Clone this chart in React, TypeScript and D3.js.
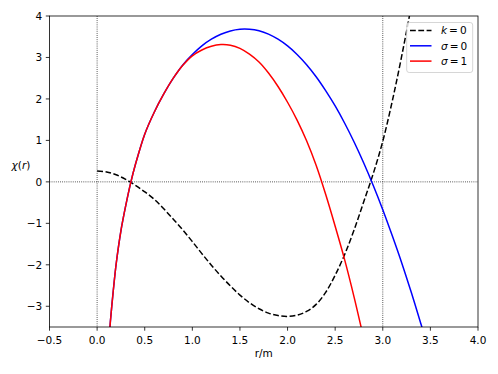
import React from "react";
import * as d3 from "d3";

// ---- data ----
const kZeroR = [0, 0.1, 0.2, 0.3, 0.4, 0.5, 0.6, 0.7, 0.8, 0.9, 1.0, 1.1, 1.2, 1.3, 1.4, 1.5, 1.6, 1.7, 1.8, 1.9, 2.0, 2.1, 2.2, 2.3, 2.4, 2.5, 2.6, 2.7, 2.8, 2.9, 3.0, 3.1, 3.2, 3.3, 3.35];
const kZeroY = [0.26, 0.24, 0.17, 0.06, -0.08, -0.24, -0.42, -0.65, -0.9, -1.16, -1.44, -1.73, -2.01, -2.27, -2.51, -2.73, -2.915, -3.06, -3.165, -3.225, -3.245, -3.215, -3.125, -2.955, -2.665, -2.25, -1.75, -1.15, -0.48, 0.2, 0.98, 1.95, 3.05, 4.25, 4.9];

const sigma0R = [0.12, 0.14, 0.17, 0.2, 0.25, 0.3, 0.355, 0.4, 0.5, 0.6, 0.7, 0.8, 0.9, 1.0, 1.1, 1.2, 1.3, 1.4, 1.5, 1.6, 1.7, 1.8, 1.9, 2.0, 2.1, 2.2, 2.3, 2.4, 2.5, 2.6, 2.7, 2.8, 2.9, 3.0, 3.1, 3.2, 3.3, 3.4, 3.45];
const sigma0Y = [-3.95, -3.35, -2.62, -1.98, -1.18, -0.58, 0, 0.4, 1.15, 1.68, 2.12, 2.5, 2.82, 3.07, 3.28, 3.44, 3.56, 3.64, 3.68, 3.68, 3.644, 3.564, 3.44, 3.278, 3.073, 2.825, 2.535, 2.2, 1.83, 1.414, 0.956, 0.456, -0.086, -0.67, -1.3, -1.96, -2.67, -3.42, -3.8];

const sigma1R = [0.12, 0.14, 0.17, 0.2, 0.25, 0.3, 0.355, 0.4, 0.5, 0.6, 0.7, 0.8, 0.9, 1.0, 1.1, 1.2, 1.3, 1.4, 1.5, 1.6, 1.7, 1.8, 1.9, 2.0, 2.1, 2.2, 2.3, 2.4, 2.5, 2.6, 2.7, 2.8];
const sigma1Y = [-3.95, -3.35, -2.62, -1.98, -1.18, -0.58, 0, 0.4, 1.15, 1.68, 2.12, 2.5, 2.81, 3.04, 3.18, 3.27, 3.31, 3.295, 3.22, 3.08, 2.89, 2.625, 2.3, 1.92, 1.49, 0.99, 0.4, -0.3, -1.07, -1.88, -2.79, -3.78];

const xTicks = [-0.5, 0, 0.5, 1.0, 1.5, 2.0, 2.5, 3.0, 3.5, 4.0];
const yTicks = [-3, -2, -1, 0, 1, 2, 3, 4];
const xDomain = [-0.5, 4.0];
const yDomain = [-3.5, 4];
const vLines = [0, 3];
const hLines = [0];

const W = 498, H = 374;
const L = 49.5, R = 478, T = 16, B = 327;
const FONT = "'DejaVu Sans', sans-serif";
const FS = 10.5;

export default function App() {
  const x = d3.scaleLinear().domain(xDomain).range([L, R]);
  const y = d3.scaleLinear().domain(yDomain).range([B, T]);
  const mk = (rs: number[], ys: number[]) =>
    d3.line<number>().x((_, i) => x(rs[i])).y((_, i) => y(ys[i])).curve(d3.curveCatmullRom.alpha(0.5))(rs) || "";
  const fmtX = (v: number) => (v < 0 ? "\u2212" : "") + Math.abs(v).toFixed(1);
  const fmtY = (v: number) => (v < 0 ? "\u2212" : "") + Math.abs(v).toString();

  const legendItems = [
    { name: "k", val: "0", color: "#000", dash: "5.8,2.5", yy: 30.5 },
    { name: "\u03c3", val: "0", color: "#0000ff", dash: "", yy: 45.8 },
    { name: "\u03c3", val: "1", color: "#ff0000", dash: "", yy: 61.1 },
  ];

  return (
    <svg width={W} height={H} style={{ display: "block", position: "absolute", left: 0, top: 0 }} fontFamily={FONT}>
      <rect x={0} y={0} width={W} height={H} fill="#fff" />
      <defs>
        <clipPath id="plot">
          <rect x={L} y={T} width={R - L} height={B - T} />
        </clipPath>
      </defs>
      <g clipPath="url(#plot)">
        {vLines.map((v) => (
          <line key={"v" + v} x1={x(v)} x2={x(v)} y1={T} y2={B} stroke="#000" strokeWidth={0.8} strokeDasharray="0.8,1.32" />
        ))}
        {hLines.map((v) => (
          <line key={"h" + v} x1={L} x2={R} y1={y(v)} y2={y(v)} stroke="#000" strokeWidth={0.8} strokeDasharray="0.8,1.32" />
        ))}
        <path d={mk(kZeroR, kZeroY)} fill="none" stroke="#000" strokeWidth={1.5} strokeDasharray="5.8,2.5" />
        <path d={mk(sigma0R, sigma0Y)} fill="none" stroke="#0000ff" strokeWidth={1.5} />
        <path d={mk(sigma1R, sigma1Y)} fill="none" stroke="#ff0000" strokeWidth={1.5} />
      </g>
      <rect x={L} y={T} width={R - L} height={B - T} fill="none" stroke="#000" strokeWidth={0.8} />
      {xTicks.map((v) => (
        <g key={"xt" + v}>
          <line x1={x(v)} x2={x(v)} y1={B} y2={B + 3.7} stroke="#000" strokeWidth={0.8} />
          <text x={x(v)} y={B + 17} fontSize={FS} textAnchor="middle" fill="#000">{fmtX(v)}</text>
        </g>
      ))}
      {yTicks.map((v) => (
        <g key={"yt" + v}>
          <line x1={L - 3.7} x2={L} y1={y(v)} y2={y(v)} stroke="#000" strokeWidth={0.8} />
          <text x={L - 7.2} y={y(v) + 3.8} fontSize={FS} textAnchor="end" fill="#000">{fmtY(v)}</text>
        </g>
      ))}
      <text x={(L + R) / 2} y={357} fontSize={FS} textAnchor="middle" fill="#000">r/m</text>
      <text x={21} y={168.5} fontSize={FS} textAnchor="middle" fill="#000">
        <tspan fontStyle="italic">{"\u03c7"}</tspan>
        <tspan>(</tspan>
        <tspan fontStyle="italic">r</tspan>
        <tspan>)</tspan>
      </text>
      <g>
        <rect x={406.7} y={22.5} width={66} height={50} rx={2.5} ry={2.5} fill="#fff" fillOpacity={0.8} stroke="#cccccc" strokeWidth={0.8} />
        {legendItems.map((it, i) => (
          <g key={"lg" + i}>
            <line x1={410} x2={431.5} y1={it.yy} y2={it.yy} stroke={it.color} strokeWidth={1.5} strokeDasharray={it.dash || undefined} />
            <text x={441} y={it.yy + 3.8} fontSize={FS} fill="#000">
              <tspan fontStyle="italic">{it.name}</tspan>
              <tspan dx={2}>=</tspan>
              <tspan dx={2}>{it.val}</tspan>
            </text>
          </g>
        ))}
      </g>
    </svg>
  );
}
